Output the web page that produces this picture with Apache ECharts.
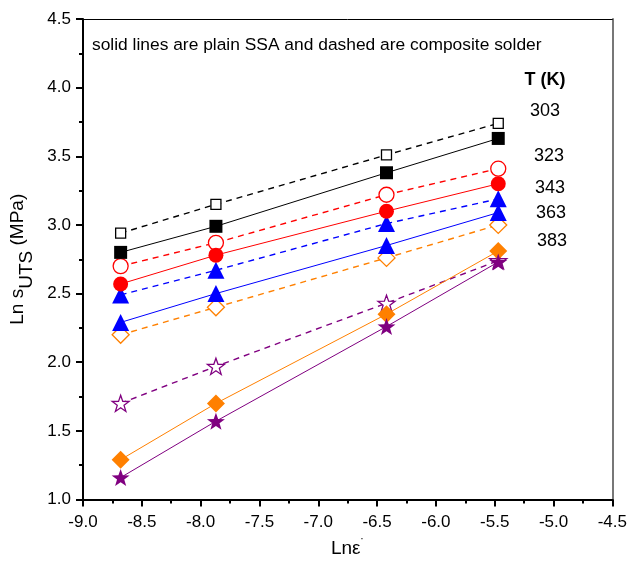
<!DOCTYPE html>
<html>
<head>
<meta charset="utf-8">
<script src="https://cdn.jsdelivr.net/npm/echarts@6/dist/echarts.min.js"></script>
<style>
html,body{margin:0;padding:0;background:#fff;}
#chart{width:630px;height:563px;}
</style>
</head>
<body>
<div id="chart"></div>
<script>
// ---- data ----
var lnStrainRate = [-8.68, -7.87, -6.42, -5.47];
var plain303 = [2.80, 2.99, 3.38, 3.63];
var comp303  = [2.94, 3.15, 3.51, 3.74];
var plain323 = [2.57, 2.78, 3.10, 3.30];
var comp323  = [2.70, 2.87, 3.22, 3.41];
var plain343 = [2.29, 2.50, 2.85, 3.09];
var comp343  = [2.49, 2.67, 3.01, 3.19];
var plain363 = [1.29, 1.70, 2.35, 2.81];
var comp363  = [2.20, 2.40, 2.76, 3.00];
var plain383 = [1.16, 1.57, 2.26, 2.73];
var comp383  = [1.70, 1.97, 2.43, 2.74];
var tempLabels = ['303', '323', '343', '363', '383'];
var noteText = 'solid lines are plain SSA and dashed are composite solder';
var tempHeader = 'T (K)';

var STAR = 'path://M50,0 L61.8,33.8 L97.6,34.5 L69,56.2 L79.4,90.5 L50,70 L20.6,90.5 L31,56.2 L2.4,34.5 L38.2,33.8 Z';

function pts(ys){ return lnStrainRate.map(function(x,i){ return [x, ys[i]]; }); }

function mk(name, ys, color, dashed, symbol, size, hollow){
  return {
    name: name, type: 'line', data: pts(ys),
    symbol: symbol, symbolSize: size, symbolKeepAspect: true,
    showAllSymbol: true,
    lineStyle: { color: color, width: dashed ? 1.4 : 1, type: dashed ? [6,5] : 'solid' },
    itemStyle: hollow ? { color: '#fff', borderColor: color, borderWidth: 1.3 } : { color: color, borderWidth: 0 },
    emphasis: { disabled: true },
    z: dashed ? 3 : 4,
    animation: false
  };
}

var series = [
  mk('comp303', comp303, '#000000', true, 'rect', 10, true),
  mk('plain303', plain303, '#000000', false, 'rect', 13, false),
  mk('comp323', comp323, '#ff0000', true, 'circle', 15, true),
  mk('plain323', plain323, '#ff0000', false, 'circle', 15, false),
  mk('comp343', comp343, '#0000ff', true, 'triangle', 17, false),
  mk('plain343', plain343, '#0000ff', false, 'triangle', 17, false),
  mk('comp363', comp363, '#ff8000', true, 'diamond', 17, true),
  mk('plain363', plain363, '#ff8000', false, 'diamond', 18, false),
  mk('comp383', comp383, '#800080', true, STAR, 17, true),
  mk('plain383', plain383, '#800080', false, STAR, 18, false)
];

var FONT = '"Liberation Sans", Arial, sans-serif';
var chart = echarts.init(document.getElementById('chart'), null, {renderer: 'canvas'});

var textEls = [
  { type: 'text', left: 92, top: 37, style: { text: noteText, font: '17.4px ' + FONT, fill: '#000' } },
  { type: 'text', x: 545, y: 80, style: { text: tempHeader, font: 'bold 18px ' + FONT, fill: '#000', align: 'center', verticalAlign: 'middle' } }
];
var labelPos = [[545,111],[549,156],[550,188],[551,213],[552,241]];
tempLabels.forEach(function(t,i){
  textEls.push({ type: 'text', x: labelPos[i][0], y: labelPos[i][1], style: { text: t, font: '18px ' + FONT, fill: '#000', align: 'center', verticalAlign: 'middle' } });
});

chart.setOption({
  animation: false,
  backgroundColor: '#fff',
  grid: { left: 83, right: 17, top: 19, bottom: 61, containLabel: false },
  xAxis: [{
    type: 'value', min: -9, max: -4.5, interval: 0.5,
    name: '{a|Ln\u03b5}{b|\u02d9}', nameLocation: 'middle', nameGap: 38,
    nameTextStyle: { rich: { a: { fontSize: 19, fontFamily: FONT, color: '#000' }, b: { fontSize: 12, fontFamily: FONT, color: '#000', padding: [0,0,10,0] } } },
    axisLine: { show: true, onZero: false, lineStyle: { color: '#000', width: 2 } },
    axisTick: { show: true, inside: false, length: 7, lineStyle: { color: '#000', width: 2 } },
    minorTick: { show: true, splitNumber: 2, length: 4, lineStyle: { color: '#000', width: 2 } },
    axisLabel: { color: '#000', fontSize: 17, fontFamily: FONT, margin: 14, formatter: function(v){ return v.toFixed(1); } },
    splitLine: { show: false }
  }, {
    type: 'value', position: 'top', min: -9, max: -4.5,
    axisLine: { show: true, onZero: false, lineStyle: { color: '#000', width: 1 } },
    axisTick: { show: false }, axisLabel: { show: false }, splitLine: { show: false }
  }],
  yAxis: [{
    type: 'value', min: 1.0, max: 4.5, interval: 0.5,
    name: '{a|Ln s}{b|UTS}{a| (MPa)}{h|\u200b}', nameLocation: 'middle', nameGap: 46,
    nameTextStyle: { rich: {
      a: { fontSize: 19, fontFamily: FONT, color: '#000', lineHeight: 21, verticalAlign: 'top' },
      b: { fontSize: 19, fontFamily: FONT, color: '#000', lineHeight: 21, verticalAlign: 'bottom' },
      h: { fontSize: 19, fontFamily: FONT, lineHeight: 28 }
    } },
    axisLine: { show: true, onZero: false, lineStyle: { color: '#000', width: 2 } },
    axisTick: { show: true, inside: false, length: 7, lineStyle: { color: '#000', width: 2 } },
    minorTick: { show: true, splitNumber: 2, length: 4, lineStyle: { color: '#000', width: 2 } },
    axisLabel: { color: '#000', fontSize: 17, fontFamily: FONT, margin: 12, formatter: function(v){ return v.toFixed(1); } },
    splitLine: { show: false }
  }, {
    type: 'value', position: 'right', min: 1.0, max: 4.5,
    axisLine: { show: true, onZero: false, lineStyle: { color: '#777', width: 2 } },
    axisTick: { show: false }, axisLabel: { show: false }, splitLine: { show: false }
  }],
  series: series,
  graphic: textEls
});
</script>
</body>
</html>
